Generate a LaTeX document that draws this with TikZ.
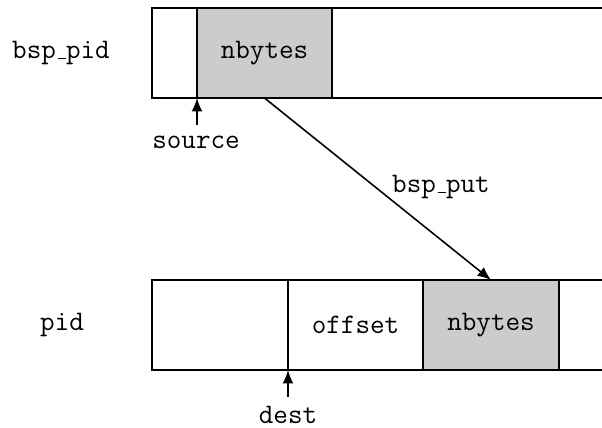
\documentclass[tikz,border=0pt]{standalone}
\usetikzlibrary{arrows.meta}
\newcommand\usc{\leavevmode\kern.06em\vbox{\hrule width.3em}}
\begin{document}
\begin{tikzpicture}[x=0.41pt,y=-0.41pt,
  every node/.style={font=\fontsize{11.6}{14}\selectfont\ttfamily},
  cell/.style={draw,line width=0.8pt,minimum height=90*0.41pt,inner sep=0pt,outer sep=0pt,anchor=north west},
  shaded/.style={fill=black!20},
  lbl/.style={inner sep=1pt},
  arr/.style={-{Latex[length=5.5pt,width=4.5pt]},line width=0.65pt}]
\useasboundingbox (0,0) rectangle (602,427);
% top row
\node[cell,minimum width=45*0.41pt] (t1) at (152,8) {};
\node[cell,shaded,minimum width=135*0.41pt] (t2) at (197,8) {nbytes};
\node[cell,minimum width=290*0.41pt] (t3) at (332,8) {};
% bottom row
\node[cell,minimum width=136*0.41pt] (b1) at (152,280) {};
\node[cell,minimum width=135*0.41pt] (b2) at (288,280) {offset};
\node[cell,shaded,minimum width=136*0.41pt] (b3) at (423,280) {nbytes};
\node[cell,minimum width=60*0.41pt] (b4) at (559,280) {};
% labels
\node[lbl] (bsppid) at (61,53) {bsp\usc pid};
\node[lbl] (pid) at (62,325) {pid};
\node[lbl] (source) at (196,142) {source};
\node[lbl] (dest) at (288,415) {dest};
\node[lbl] (put) at (441,187) {bsp\usc put};
\coordinate (sa) at (197,125);
\coordinate (da) at (288,397);
\draw[arr] (sa) -- (t1.south east);
\draw[arr] (da) -- (b1.south east);
\draw[arr] (t2.south) -- (b3.north);
\end{tikzpicture}
\end{document}
